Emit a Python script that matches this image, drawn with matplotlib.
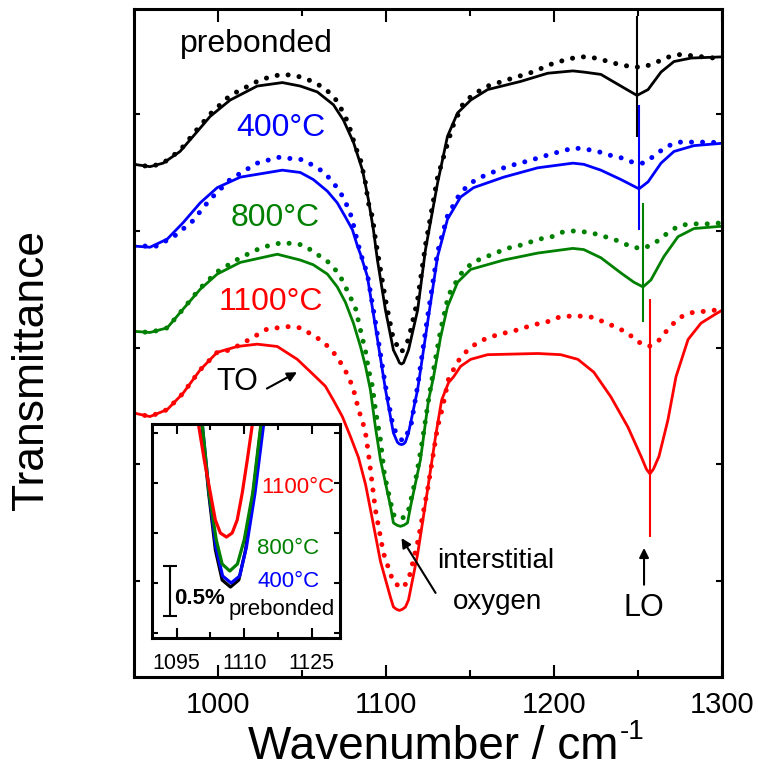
import matplotlib
matplotlib.use("Agg")
import matplotlib.pyplot as plt
from matplotlib.ticker import MultipleLocator

plt.rcParams['font.family'] = ['Liberation Sans', 'DejaVu Sans']

# --- main spectra: wavenumber (cm-1) and offset transmittance (a.u.) ---
# solid = measured, dotted = simulated
wn_pre = [950.0, 959.5, 967.3, 977.4, 987.6, 995.3, 1007.2, 1023.3, 1038.3, 1049.0,
          1059.1, 1068.7, 1074.6, 1080.6, 1086.0, 1089.5, 1092.5, 1094.9, 1099.7, 1104.4,
          1106.8, 1108.0, 1109.2, 1110.4, 1111.5, 1113.4, 1118.8, 1123.5, 1130.7, 1136.6,
          1142.6, 1150.4, 1160.5, 1180.2, 1196.3, 1211.2, 1217.7, 1227.9, 1239.8, 1249.4,
          1256.0, 1263.7, 1271.4, 1281.6, 1300.0]
t_pre = [45.7, 45.5, 45.8, 46.8, 48.5, 49.8, 51.2, 52.4, 52.7, 52.4,
         51.9, 50.8, 49.5, 47.6, 45.2, 42.7, 40.1, 37.5, 33.2, 29.8,
         29.1, 28.7, 28.6, 28.7, 29.1, 29.8, 33.2, 38.4, 44.1, 48.1,
         50.1, 51.2, 52.1, 52.8, 53.5, 53.7, 53.6, 53.4, 52.4, 51.6,
         52.1, 53.6, 54.5, 54.8, 54.9]

wn_pre_sim = [950.0, 959.5, 967.3, 977.4, 987.6, 995.3, 1007.2, 1023.3, 1031.1, 1038.3,
              1046.0, 1050.8, 1057.9, 1065.1, 1071.0, 1074.6, 1077.6, 1081.8, 1084.8, 1087.8,
              1089.5, 1091.9, 1093.7, 1099.7, 1104.4, 1109.2, 1113.4, 1118.8, 1123.5, 1130.7,
              1139.6, 1146.2, 1153.3, 1160.5, 1173.6, 1187.3, 1200.4, 1214.2, 1220.7, 1227.9,
              1234.4, 1241.0, 1247.6, 1254.8, 1261.9, 1268.4, 1275.0, 1282.1, 1288.7, 1295.3,
              1300.0]
t_pre_sim = [45.7, 45.5, 45.8, 46.9, 48.7, 50.0, 51.6, 52.8, 53.2, 53.4,
             53.3, 53.1, 52.7, 52.0, 51.1, 50.1, 49.2, 47.2, 46.1, 44.1,
             42.4, 41.2, 39.3, 34.1, 30.7, 29.6, 30.7, 34.1, 38.8, 44.6,
             48.9, 51.0, 51.8, 52.4, 53.0, 53.6, 54.4, 54.9, 54.9, 54.7,
             54.4, 54.2, 54.0, 54.1, 54.5, 54.9, 55.1, 55.0, 54.9, 54.8,
             54.8]

wn_400 = [950.0, 959.5, 969.8, 979.2, 989.4, 999.5, 1013.2, 1038.3, 1049.0, 1056.7,
          1065.1, 1071.0, 1075.8, 1080.0, 1083.0, 1084.8, 1088.9, 1093.7, 1099.7, 1104.4,
          1106.8, 1108.0, 1109.2, 1110.4, 1111.5, 1113.4, 1118.8, 1124.7, 1130.7, 1136.6,
          1144.4, 1152.1, 1170.0, 1190.3, 1211.2, 1217.7, 1227.9, 1239.8, 1250.6, 1256.0,
          1263.7, 1271.4, 1283.3, 1300.0]
t_400 = [38.7, 38.6, 39.3, 40.7, 42.4, 43.7, 44.6, 45.2, 45.0, 44.4,
         43.4, 42.4, 41.2, 40.1, 38.7, 38.0, 36.1, 31.8, 26.4, 22.7,
         21.9, 21.75, 21.7, 21.75, 21.9, 22.7, 26.4, 32.1, 37.8, 41.0,
         42.9, 43.7, 44.6, 45.4, 45.8, 45.7, 45.2, 44.4, 43.6, 44.2,
         45.8, 46.8, 47.3, 47.5]

wn_400_sim = [950.0, 963.7, 974.4, 984.6, 995.3, 1007.2, 1023.3, 1035.9, 1050.2, 1056.7,
              1063.3, 1069.3, 1074.0, 1077.0, 1080.0, 1081.2, 1083.0, 1084.8, 1088.9, 1093.7,
              1099.7, 1104.4, 1109.8, 1114.6, 1118.8, 1124.7, 1130.7, 1136.6, 1144.4, 1151.6,
              1158.1, 1171.8, 1184.9, 1198.7, 1211.8, 1218.9, 1226.1, 1232.6, 1239.2, 1246.4,
              1253.0, 1259.5, 1266.6, 1273.8, 1280.4, 1286.9, 1293.5, 1300.0]
t_400_sim = [38.7, 38.7, 39.6, 40.8, 42.7, 44.4, 45.8, 46.3, 46.1, 45.6,
             45.0, 44.0, 43.0, 42.1, 41.0, 40.1, 39.1, 38.1, 36.3, 32.2,
             26.7, 23.1, 22.0, 23.1, 26.7, 32.6, 38.2, 41.3, 43.3, 44.2,
             44.7, 45.5, 46.0, 46.6, 47.1, 47.0, 46.8, 46.5, 46.3, 45.9,
             45.8, 46.4, 47.2, 47.6, 47.6, 47.6, 47.6, 47.5]

wn_800 = [950.0, 959.5, 969.8, 979.2, 989.4, 999.5, 1013.2, 1035.3, 1049.0, 1056.7,
          1065.1, 1071.0, 1075.8, 1080.6, 1084.8, 1087.8, 1090.7, 1093.7, 1096.7, 1102.7,
          1104.4, 1106.5, 1108.6, 1110.7, 1112.8, 1114.6, 1120.5, 1125.3, 1128.3, 1132.5,
          1136.6, 1142.6, 1150.4, 1170.0, 1190.3, 1211.2, 1217.7, 1227.9, 1239.8, 1247.6,
          1253.0, 1257.7, 1265.4, 1273.8, 1283.3, 1300.0]
t_800 = [31.4, 31.3, 31.7, 33.3, 35.0, 36.3, 37.3, 38.0, 37.5, 37.1,
         36.3, 35.2, 33.9, 32.1, 30.1, 28.4, 26.4, 23.2, 20.4, 16.4,
         15.0, 14.8, 14.7, 14.8, 15.0, 16.4, 20.4, 25.5, 27.5, 30.9,
         33.5, 35.6, 36.7, 37.5, 38.1, 38.5, 38.4, 37.7, 36.4, 35.6,
         35.2, 35.8, 37.8, 39.5, 40.2, 40.4]

wn_800_sim = [950.0, 959.5, 969.8, 979.2, 989.4, 999.5, 1013.2, 1026.3, 1038.3, 1050.8,
              1057.9, 1065.1, 1071.6, 1074.6, 1078.2, 1081.8, 1084.8, 1087.8, 1089.5, 1091.9,
              1093.7, 1096.7, 1099.1, 1104.4, 1108.6, 1112.8, 1118.2, 1121.7, 1125.3, 1128.3,
              1132.5, 1137.2, 1144.4, 1151.6, 1158.1, 1165.3, 1171.8, 1178.4, 1184.9, 1191.5,
              1198.7, 1205.2, 1212.4, 1218.9, 1226.1, 1232.6, 1239.2, 1246.4, 1253.0, 1259.5,
              1266.6, 1273.8, 1280.4, 1286.9, 1293.5, 1300.0]
t_800_sim = [31.4, 31.3, 31.7, 33.3, 35.1, 36.5, 37.7, 38.6, 39.0, 38.8,
             38.1, 37.4, 36.4, 35.6, 34.5, 33.4, 31.5, 29.7, 28.2, 26.7,
             24.7, 22.1, 19.1, 15.7, 15.3, 15.7, 19.1, 22.1, 25.5, 28.1,
             31.5, 34.5, 36.3, 37.3, 37.7, 38.1, 38.5, 38.7, 39.0, 39.3,
             39.5, 39.9, 40.0, 39.9, 39.7, 39.4, 39.1, 38.6, 38.5, 38.9,
             39.7, 40.4, 40.6, 40.6, 40.6, 40.7]

wn_1100 = [950.0, 959.5, 969.8, 979.2, 989.4, 999.5, 1011.4, 1023.3, 1035.3, 1047.2,
           1056.7, 1063.9, 1068.7, 1074.0, 1078.8, 1083.6, 1087.8, 1091.9, 1096.7, 1102.7,
           1104.4, 1106.2, 1108.0, 1109.8, 1111.6, 1113.4, 1118.8, 1124.7, 1129.5, 1133.1,
           1137.2, 1140.2, 1144.4, 1150.4, 1160.5, 1190.3, 1204.0, 1214.2, 1223.7, 1233.8,
           1244.0, 1251.8, 1255.0, 1257.1, 1259.2, 1262.5, 1267.8, 1272.6, 1279.8, 1287.5,
           1295.3, 1300.0]
t_1100 = [24.4, 24.1, 24.7, 26.1, 28.1, 29.6, 30.1, 30.3, 30.1, 29.0,
          27.7, 26.7, 25.5, 24.1, 22.4, 20.6, 18.3, 15.3, 11.7, 8.6,
          7.8, 7.6, 7.5, 7.6, 7.8, 8.4, 12.3, 17.8, 22.4, 25.5,
          27.0, 27.5, 28.4, 29.0, 29.4, 29.5, 29.4, 29.0, 27.9, 25.8,
          23.2, 20.7, 19.6, 19.2, 19.6, 20.7, 23.8, 27.5, 30.7, 32.1,
          32.8, 33.2]

wn_1100_sim = [950.0, 959.5, 969.8, 979.2, 989.4, 999.5, 1007.2, 1016.2, 1029.3, 1041.8,
               1049.0, 1056.1, 1062.7, 1068.7, 1074.0, 1077.0, 1080.0, 1081.8, 1083.6, 1086.0,
               1087.8, 1089.5, 1093.7, 1098.5, 1104.4, 1109.8, 1113.4, 1118.8, 1124.7, 1130.7,
               1133.7, 1137.2, 1142.6, 1148.6, 1155.1, 1161.7, 1168.8, 1175.4, 1182.0, 1189.1,
               1195.7, 1202.8, 1209.4, 1216.0, 1223.1, 1229.7, 1236.2, 1243.4, 1250.0, 1256.6,
               1263.1, 1268.4, 1275.0, 1282.1, 1288.7, 1295.3, 1300.0]
t_1100_sim = [24.4, 24.1, 24.7, 26.1, 28.1, 29.6, 29.8, 30.5, 31.6, 31.8,
              31.7, 31.1, 30.5, 29.6, 28.5, 27.7, 26.7, 25.8, 24.7, 23.7,
              22.7, 21.0, 16.1, 12.4, 9.9, 9.4, 10.1, 13.3, 17.8, 23.2,
              24.9, 27.3, 28.8, 29.8, 30.5, 30.9, 31.2, 31.4, 31.7, 32.0,
              32.2, 32.6, 32.7, 32.7, 32.6, 32.2, 31.8, 31.3, 30.5, 30.1,
              30.7, 31.7, 32.6, 33.0, 33.1, 33.2, 33.3]

# LO mode position markers (one per sample)
lo_wn = [1249.4, 1250.6, 1253.0, 1257.1]
lo_top = [58.4, 50.8, 42.4, 34.2]
lo_bottom = [48.0, 40.1, 32.2, 13.8]

# --- inset: close-up of the interstitial-oxygen minimum (transmittance, %) ---
in_wn_pre = [1100.2, 1100.6, 1102.1, 1103.6, 1105.1, 1106.95, 1108.8, 1110.3, 1112.0, 1113.8, 1114.2]
in_t_pre = [2.23, 2.08, 1.40, 0.83, 0.53, 0.46, 0.53, 0.83, 1.40, 2.08, 2.23]
in_wn_400 = [1100.3, 1100.7, 1102.2, 1103.7, 1105.2, 1107.1, 1109.0, 1110.5, 1112.4, 1114.3, 1114.7]
in_t_400 = [2.23, 2.08, 1.40, 0.86, 0.57, 0.50, 0.57, 0.86, 1.40, 2.08, 2.23]
in_wn_800 = [1100.3, 1100.7, 1102.2, 1103.8, 1105.1, 1106.8, 1108.5, 1110.0, 1111.9, 1113.7, 1114.1]
in_t_800 = [2.23, 2.08, 1.40, 0.93, 0.69, 0.62, 0.69, 0.93, 1.40, 2.08, 2.23]
in_wn_1100 = [1099.3, 1099.86, 1101.13, 1102.48, 1103.59, 1104.71, 1106.05, 1107.33, 1108.45,
              1109.57, 1110.69, 1111.8, 1112.4]
in_t_1100 = [2.23, 2.08, 1.73, 1.40, 1.13, 1.00, 0.96, 1.00, 1.13, 1.40, 1.73, 2.08, 2.23]

scale_bar = 0.5  # %

samples = ['prebonded', '400°C', '800°C', '1100°C']
colors = ['black', '#0000ff', '#008000', '#ff0000']

fig = plt.figure(figsize=(7.58, 7.76), dpi=100)
ax = fig.add_axes([0.1768, 0.1276, 0.7757, 0.8608])

measured = [(wn_pre, t_pre), (wn_400, t_400), (wn_800, t_800), (wn_1100, t_1100)]
simulated = [(wn_pre_sim, t_pre_sim), (wn_400_sim, t_400_sim),
             (wn_800_sim, t_800_sim), (wn_1100_sim, t_1100_sim)]

for (x, y), (xs, ys), c in zip(measured, simulated, colors):
    ax.plot(xs, ys, color=c, lw=3.6, linestyle=(0, (0.01, 2.2)),
            dash_capstyle='round')
    ax.plot(x, y, color=c, lw=2.0, solid_joinstyle='round')

ax.vlines(lo_wn, lo_bottom, lo_top, colors=colors, lw=1.5)

ax.set_xlim(950, 1300)
ax.set_ylim(1.8, 59.0)
ax.xaxis.set_major_locator(MultipleLocator(100))
ax.xaxis.set_minor_locator(MultipleLocator(50))
ax.yaxis.set_major_locator(MultipleLocator(10))
ax.tick_params(which='both', direction='in', top=True, right=True, width=1.5)
ax.tick_params(axis='x', which='major', length=9, labelsize=21, pad=10)
ax.tick_params(axis='x', which='minor', length=5)
ax.tick_params(axis='y', which='major', length=4, labelleft=False)
for s in ax.spines.values():
    s.set_linewidth(2.2)

ax.set_xlabel('Wavenumber / cm', fontsize=33)
ax.xaxis.set_label_coords(0.509, -0.072)
ax.text(0.848, -0.082, '-1', transform=ax.transAxes, fontsize=20,
        ha='center', va='center')
ax.set_ylabel('Transmittance', fontsize=32)
ax.yaxis.set_label_coords(-0.14, 0.46)

# curve labels
label_pos = [(1022.7, 56.0), (1037.7, 48.8), (1034.1, 41.1), (1031.7, 33.9)]
for name, c, (lx, ly) in zip(samples, colors, label_pos):
    ax.text(lx, ly, name, color=c, fontsize=23, ha='center', va='center')

arrow = dict(arrowstyle='-|>', color='black', lw=1.5, mutation_scale=14,
             shrinkA=0, shrinkB=0)
ax.annotate('', xy=(1047.0, 27.9), xytext=(1029.1, 26.5), arrowprops=arrow)
ax.text(1011.4, 27.1, 'TO', fontsize=22, ha='center', va='center')
ax.annotate('', xy=(1109.2, 13.7), xytext=(1129.5, 9.0), arrowprops=arrow)
ax.text(1165.3, 11.7, 'interstitial', fontsize=20, ha='center', va='center')
ax.text(1166.5, 8.2, 'oxygen', fontsize=20, ha='center', va='center')
ax.annotate('', xy=(1253.6, 12.85), xytext=(1253.6, 9.7), arrowprops=arrow)
ax.text(1253.6, 7.7, 'LO', fontsize=22, ha='center', va='center')

# inset
axin = fig.add_axes([0.2005, 0.1778, 0.248, 0.2758])
axin.set_facecolor('white')
inset_curves = [(in_wn_pre, in_t_pre), (in_wn_400, in_t_400),
                (in_wn_800, in_t_800), (in_wn_1100, in_t_1100)]
for (x, y), c in zip(inset_curves, colors):
    axin.plot(x, y, color=c, lw=2.3, solid_joinstyle='round')

axin.errorbar([1093.5], [0.42], yerr=scale_bar / 2, color='black', lw=1.5,
              capsize=5, capthick=1.5)
axin.text(1100.0, 0.35, '0.5%', fontsize=16, fontweight='bold',
          ha='center', va='center')
inset_label_pos = [(1118.4, 0.24), (1119.9, 0.52), (1119.7, 0.85), (1121.9, 1.46)]
for name, c, (lx, ly) in zip(samples, colors, inset_label_pos):
    axin.text(lx, ly, name, color=c, fontsize=16, ha='center', va='center')

axin.set_xlim(1089.5, 1131.3)
axin.set_ylim(-0.05, 2.09)
axin.set_xticks([1095, 1110, 1125])
axin.xaxis.set_minor_locator(MultipleLocator(7.5))
axin.yaxis.set_major_locator(MultipleLocator(0.5))
axin.tick_params(which='both', direction='in', top=True, right=True, width=1.5)
axin.tick_params(axis='x', which='major', length=7, labelsize=15.5, pad=11)
axin.tick_params(axis='x', which='minor', length=4)
axin.tick_params(axis='y', length=4, labelleft=False)
for s in axin.spines.values():
    s.set_linewidth(2.2)

fig.savefig('out.png', dpi=100)
